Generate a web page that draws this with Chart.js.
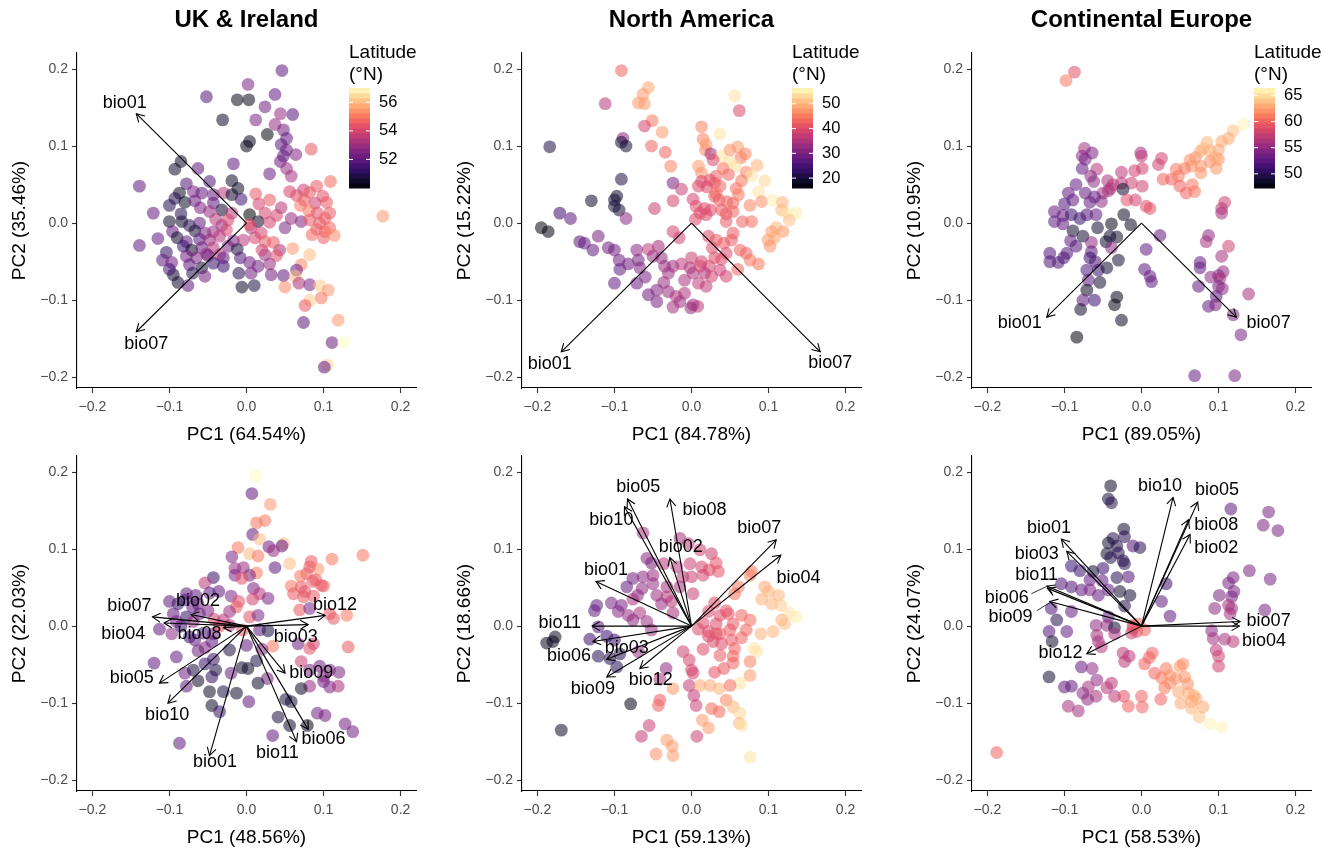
<!DOCTYPE html>
<html>
<head>
<meta charset="utf-8">
<script src="https://cdn.jsdelivr.net/npm/chart.js@4.4.1/dist/chart.umd.min.js"></script>
<style>
  html, body { margin: 0; padding: 0; background: #fff; width: 1338px; height: 851px; overflow: hidden; position: relative; }
  canvas { position: absolute; }
</style>
</head>
<body>
<canvas id="c0" width="446" height="448" style="left:0px;top:0px"></canvas>
<canvas id="c1" width="446" height="448" style="left:445px;top:0px"></canvas>
<canvas id="c2" width="446" height="448" style="left:895px;top:0px"></canvas>
<canvas id="c3" width="446" height="448" style="left:0px;top:403px"></canvas>
<canvas id="c4" width="446" height="448" style="left:445px;top:403px"></canvas>
<canvas id="c5" width="446" height="448" style="left:895px;top:403px"></canvas>
<script>
const panelTitles = ['UK & Ireland', 'North America', 'Continental Europe'];
const xTitles = ['PC1 (64.54%)', 'PC1 (84.78%)', 'PC1 (89.05%)', 'PC1 (48.56%)', 'PC1 (59.13%)', 'PC1 (58.53%)'];
const yTitles = ['PC2 (35.46%)', 'PC2 (15.22%)', 'PC2 (10.95%)', 'PC2 (22.03%)', 'PC2 (18.66%)', 'PC2 (24.07%)'];
const axisTicks = [-0.2, -0.1, 0, 0.1, 0.2];
const xLimits = [-0.22, 0.22];
const yLimits = [-0.214, 0.2208];

// latitude colour ranges and colourbar ticks
const ukLatRange = [50.0, 57.0];
const naLatRange = [16.0, 56.4];
const euLatRange = [47.3, 66.4];
const ukLatTicks = [52, 54, 56];
const naLatTicks = [20, 30, 40, 50];
const euLatTicks = [50, 55, 60, 65];

// ---- UK & Ireland, bio01 + bio07 ----  [PC1, PC2, latitude]
const ukTwoPts = [[0.046,0.198,52],[0.002,0.180,52.5],[-0.052,0.164,51.8],[-0.012,0.160,50.3],[0.003,0.160,50.3],[0.037,0.167,52],[0.024,0.151,52.3],[0.044,0.142,53],[0.060,0.141,51.8],[0.012,0.134,52.5],[-0.031,0.134,50.5],[0.027,0.115,50.1],[0.004,0.106,50.3],[0,0.100,50.3],[0.037,0.128,53],[0.048,0.121,52.3],[0.052,0.110,52],[0.045,0.102,52],[0.084,0.096,54.5],[0.052,0.095,52.3],[0.064,0.089,52.6],[0.048,0.087,52],[0.044,0.080,52.3],[0.052,0.071,53],[0.058,0.061,53.2],[0.030,0.064,52.2],[-0.017,0.077,52],[-0.085,0.080,50.5],[-0.093,0.070,50.5],[-0.063,0.071,52],[-0.139,0.048,52],[-0.078,0.051,51.8],[-0.048,0.054,51.8],[-0.019,0.055,50.5],[-0.011,0.045,50.5],[-0.087,0.039,50.5],[-0.093,0.032,51],[-0.100,0.023,51],[-0.080,0.027,50.5],[-0.069,0.041,52.5],[-0.058,0.039,52],[-0.043,0.037,52.2],[-0.067,0.029,52.2],[-0.030,0.039,53.5],[-0.019,0.037,50.5],[-0.007,0.031,51.5],[0.012,0.038,54.5],[-0.121,0.013,52],[-0.043,0.026,52],[-0.048,0.015,53],[-0.032,0.017,50.5],[-0.019,0.013,53.5],[0.016,0.025,54],[0.004,0.011,50],[0.024,0.013,54],[0.015,0.002,50.5],[-0.100,0.002,50.5],[-0.084,0.002,50.5],[-0.074,-0.003,51],[-0.061,0,52],[-0.032,-0.003,53],[-0.024,0.004,54],[-0.096,-0.011,52],[-0.067,-0.010,50.8],[-0.054,-0.013,52.5],[-0.043,-0.011,53],[-0.026,-0.009,54],[0.006,-0.006,53.5],[0.019,-0.013,54],[-0.090,-0.019,50.5],[-0.078,-0.024,52],[-0.061,-0.021,52],[-0.048,-0.022,53],[-0.035,-0.017,53.5],[-0.017,-0.023,52.5],[-0.004,-0.022,53.5],[0.011,-0.019,54],[0.024,-0.024,54.5],[-0.139,-0.029,52],[-0.082,-0.030,51.3],[-0.071,-0.035,50.5],[-0.058,-0.032,52.3],[-0.043,-0.032,53.5],[-0.024,-0.030,52.5],[-0.012,-0.034,50.8],[-0.104,-0.038,51.2],[-0.078,-0.043,52.3],[-0.065,-0.045,52.5],[-0.050,-0.042,51.5],[-0.035,-0.041,53.5],[-0.008,-0.045,51.8],[0.024,-0.041,53],[0.043,-0.035,53.2],[0.039,-0.042,54.3],[0.060,-0.033,55.5],[0.082,-0.041,56],[-0.109,-0.048,52],[-0.097,-0.051,52.3],[-0.074,-0.054,52],[-0.058,-0.058,50.7],[-0.043,-0.052,51.3],[-0.030,-0.056,51.3],[0.004,-0.051,52.3],[0.015,-0.056,52.3],[0.030,-0.053,53],[0.071,-0.054,55.3],[0.065,-0.061,52.2],[-0.095,-0.067,50.5],[-0.054,-0.069,52.3],[0.006,-0.065,52.3],[0.032,-0.067,52.3],[0.048,-0.068,52],[0.063,-0.069,56],[-0.089,-0.077,50.5],[-0.076,-0.081,52],[-0.006,-0.083,50.5],[0.010,-0.081,50.8],[0.050,-0.083,55.3],[0.068,-0.078,53.3],[0.082,-0.080,52.5],[0.095,-0.081,56.2],[0.106,-0.087,55.5],[0.082,-0.100,56.2],[0.097,-0.097,55],[0.076,-0.107,54.5],[0.119,-0.126,55.5],[0.074,-0.129,52],[0.111,-0.155,52.2],[0.126,-0.155,57],[0.105,-0.184,56.3],[0.101,-0.187,52],[0.109,0.054,54.8],[0.056,0.041,54],[0.074,0.043,53.8],[0.091,0.048,54.5],[0.065,0.036,54.2],[0.082,0.040,54.5],[0.099,0.035,54.3],[0.070,0.023,55],[0.089,0.026,53.8],[0.104,0.027,54.5],[0.081,0.016,55],[0.092,0.013,54.3],[0.108,0.013,54.5],[0.058,0.006,53],[0.071,0.002,52.5],[0.082,0.004,54.5],[0.102,0.006,54.5],[0.091,-0.008,54.5],[0.102,-0.011,54.8],[0.108,-0.006,54.7],[0.100,-0.019,54.6],[0.114,-0.016,55.3],[0.050,-0.006,52.5],[0.177,0.009,55.5],[0.039,0.010,54],[0.030,0.001,54],[0.004,-0.002,54.3],[-0.085,0.012,51],[-0.060,0.020,52.5],[-0.040,0.005,53.5],[-0.052,-0.040,53],[-0.030,-0.045,52],[-0.070,-0.065,51],[-0.100,-0.060,51.5],[-0.115,-0.020,52],[0.030,0.030,54.5],[0.045,0.020,53.5],[0.020,-0.035,54],[0.035,-0.025,54.5],[-0.010,-0.065,51],[0.075,0.030,54.5],[0.095,0.000,54.5],[0.085,-0.015,54.8]];
const ukTwoVars = ['bio01', 'bio07'];
const ukTwoTips = [[-0.143, 0.142], [-0.143, -0.141]];
const ukTwoLabels = [[-0.158, 0.156], [-0.130, -0.157]];

// ---- North America, bio01 + bio07 ----
const naTwoPts = [[-0.091,0.198,43],[-0.056,0.176,49],[-0.063,0.167,48],[-0.069,0.156,48],[-0.061,0.155,48],[-0.112,0.155,36],[0.056,0.165,54],[0.062,0.146,40],[-0.051,0.133,45],[-0.061,0.126,39],[-0.038,0.118,48],[0.013,0.125,46],[0.037,0.116,54],[-0.089,0.110,32],[-0.091,0.105,20],[-0.085,0.100,20],[-0.184,0.099,21],[-0.052,0.100,43],[0.015,0.109,46],[0.019,0.102,48],[0.060,0.099,48],[-0.034,0.092,43],[0.018,0.095,47],[0.025,0.090,34],[0.039,0.087,54],[0.028,0.082,40],[0.064,0.085,45],[0.050,0.080,54],[0.057,0.074,54],[-0.027,0.074,46],[0.009,0.074,48],[0.041,0.071,45],[0.071,0.066,46],[0.078,0.061,54],[0.013,0.065,47],[0.032,0.061,43],[0.048,0.063,43],[-0.091,0.057,21],[-0.024,0.052,30],[0.013,0.054,40],[0.024,0.056,40],[0.030,0.052,42],[0.009,0.048,40],[0.020,0.047,40],[0.037,0.048,43],[0.058,0.045,44],[-0.013,0.044,38],[0.087,0.041,54],[0.032,0.038,44],[0.061,0.037,45],[-0.097,0.035,19],[-0.100,0.030,20],[-0.130,0.029,19],[-0.024,0.029,39],[0.002,0.031,39],[0.036,0.030,43],[0.046,0.028,43],[0.091,0.028,47],[0.105,0.030,55],[0.118,0.027,50],[-0.100,0.022,20],[-0.094,0.017,20],[-0.048,0.019,38],[0.006,0.022,40],[0.017,0.019,40],[0.025,0.017,40],[0.039,0.017,42],[0.054,0.015,43],[0.076,0.023,46],[-0.171,0.013,24],[-0.157,0.006,27],[-0.085,0.006,32],[0.011,0.013,40],[0.019,0.011,40],[0.045,0.012,42],[0.117,0.017,50],[0.123,0.013,54],[0.136,0.013,55],[0.127,0.004,51],[0.045,0.002,42],[0.066,0.002,43],[0.078,0.002,44],[-0.195,-0.006,17],[-0.186,-0.011,17],[-0.024,-0.011,39],[0.110,-0.006,50],[0.119,-0.011,48],[0.104,-0.011,48],[-0.121,-0.017,30],[-0.016,-0.019,39],[0.022,-0.017,40],[0.032,-0.022,42],[0.052,-0.022,42],[0.099,-0.022,48],[0.108,-0.019,49],[-0.145,-0.024,27],[-0.139,-0.026,28],[0.042,-0.026,42],[0.063,-0.035,43],[0.102,-0.030,47],[-0.128,-0.035,28],[-0.108,-0.032,29],[-0.100,-0.035,29],[-0.071,-0.035,32],[-0.056,-0.034,37],[-0.043,-0.030,34],[0.027,-0.032,40],[0.045,-0.039,40],[-0.094,-0.048,29],[-0.082,-0.053,29],[-0.069,-0.048,30],[-0.050,-0.043,33],[-0.039,-0.045,33],[0.039,-0.047,40],[0.076,-0.048,45],[0.087,-0.053,45],[-0.093,-0.060,28],[-0.067,-0.058,31],[-0.035,-0.056,33],[-0.024,-0.056,33],[-0.013,-0.053,37],[-0.002,-0.058,35],[0.013,-0.050,39],[0.023,-0.056,39],[0.037,-0.061,38],[0.002,-0.065,35],[0.017,-0.065,35],[0.026,-0.069,39],[0.045,-0.069,39],[-0.100,-0.078,28],[-0.071,-0.078,29],[-0.036,-0.077,33],[-0.009,-0.074,35],[0.009,-0.078,37],[0.019,-0.082,37],[-0.045,-0.087,31],[-0.030,-0.089,33],[-0.056,-0.093,29],[-0.009,-0.091,35],[-0.045,-0.102,30],[-0.015,-0.102,34],[0.002,-0.106,34],[0.008,-0.108,36],[-0.024,-0.109,34],[-0.001,-0.110,33],[0,-0.045,38],[0.011,-0.056,39],[0.071,-0.039,43],[0.054,-0.013,42],[0.054,0.026,43],[0.070,0.090,46],[0.085,0.075,50],[0.095,0.055,53],[0.050,0.095,47],[0.030,0.035,42],[0.065,0.055,45],[0.005,0.005,40],[0.030,-0.045,40],[0.060,-0.060,43],[-0.030,-0.065,34],[-0.060,-0.070,30],[-0.020,-0.095,35]];
const naTwoVars = ['bio01', 'bio07'];
const naTwoTips = [[-0.169, -0.167], [0.167, -0.167]];
const naTwoLabels = [[-0.184, -0.183], [0.180, -0.182]];

// ---- Continental Europe, bio01 + bio07 ----
const euTwoPts = [[-0.087,0.196,59],[-0.098,0.185,61],[0.132,0.128,66],[0.119,0.120,64],[0.113,0.110,63],[0.104,0.106,63],[0.080,0.097,64],[0.089,0.094,63],[0.100,0.095,63],[0.076,0.093,63],[-0.074,0.097,56],[-0.064,0.091,54],[-0.077,0.087,55],[-0.073,0.083,54],[-0.001,0.091,56],[0,0.087,57],[0.026,0.084,58],[0.063,0.082,62],[0.089,0.080,62],[0.100,0.083,62],[0.022,0.076,58],[0.065,0.074,62],[0.077,0.074,62],[0.097,0.071,62],[-0.077,0.071,53],[-0.058,0.070,57],[0.001,0.071,58],[-0.009,0.068,58],[0.056,0.071,61],[0.077,0.065,62],[-0.026,0.066,57],[-0.066,0.061,55],[-0.062,0.054,55],[-0.044,0.055,56],[-0.037,0.050,57],[-0.026,0.052,57],[-0.013,0.052,58],[0.001,0.048,58],[0.028,0.057,60],[0.039,0.057,60],[0.048,0.061,61],[0.050,0.048,60],[0.066,0.050,61],[0.058,0.039,60],[0.069,0.041,61],[-0.024,0.044,49],[-0.095,0.039,53],[-0.073,0.039,53],[-0.050,0.039,56],[-0.040,0.045,57],[-0.019,0.030,59],[-0.008,0.030,58],[-0.089,0.030,53],[-0.067,0.027,53],[-0.052,0.028,55],[0.006,0.022,59],[0.011,0.019,59],[0.108,0.027,58],[0.104,0.019,57],[0.104,0.013,56],[-0.113,0.015,53],[-0.102,0.010,53],[-0.091,0.011,51],[-0.080,0.006,51],[-0.071,0.011,52],[-0.059,0.011,53],[-0.023,0.011,48.5],[-0.113,0.002,53],[-0.102,-0.001,53],[-0.039,-0.001,48],[-0.014,-0.002,48.5],[-0.089,-0.010,49],[-0.076,-0.017,49],[-0.057,-0.006,49],[-0.041,-0.017,49],[-0.032,-0.018,49],[0.024,-0.016,53],[-0.092,-0.023,53],[-0.065,-0.025,55],[-0.046,-0.024,49],[-0.039,-0.032,55],[0.087,-0.016,55],[0.084,-0.024,56],[0.113,-0.030,58],[-0.065,-0.037,53],[0.006,-0.034,53],[-0.119,-0.039,52],[-0.097,-0.039,52],[-0.067,-0.045,51],[-0.119,-0.050,52],[-0.108,-0.051,52],[-0.101,-0.045,52],[-0.030,-0.048,49],[0.104,-0.043,56],[0.076,-0.051,53],[-0.071,-0.061,52],[-0.056,-0.061,51],[-0.045,-0.058,49],[0.004,-0.060,53],[0.076,-0.058,53],[0.100,-0.068,55],[0.106,-0.063,55],[0.102,-0.072,56],[0.011,-0.069,53],[-0.069,-0.074,53],[-0.054,-0.077,49],[0.013,-0.076,53],[0.074,-0.082,53],[0.100,-0.082,54],[-0.071,-0.087,48.5],[-0.076,-0.100,53],[-0.061,-0.100,51],[-0.032,-0.096,48],[-0.035,-0.106,48],[0.097,-0.095,53],[0.139,-0.092,56],[0.087,-0.108,53],[0.096,-0.106,54],[-0.079,-0.112,49],[-0.026,-0.126,48.5],[0.119,-0.119,54],[0.129,-0.145,54],[-0.084,-0.148,47.5],[0.069,-0.198,53],[0.121,-0.198,54],[-0.043,0.042,56],[-0.061,0.034,53],[0.085,0.105,63.5],[0.095,0.085,63],[0.070,0.085,62],[0.045,0.070,61],[-0.085,0.050,53],[-0.100,0.025,52],[-0.085,-0.030,52],[-0.060,-0.050,52],[0.090,-0.070,55],[0.105,-0.085,55]];
const euTwoVars = ['bio01', 'bio07'];
const euTwoTips = [[-0.123, -0.122], [0.123, -0.122]];
const euTwoLabels = [[-0.158, -0.130], [0.165, -0.130]];

// ---- UK & Ireland, all twelve variables ----
const ukAllPts = [[0.012,0.195,57],[0.007,0.172,52],[0.031,0.158,55.5],[0.013,0.134,55],[0.024,0.137,55],[0.008,0.119,52],[0.017,0.113,56],[0.048,0.107,56],[0.029,0.103,52.3],[0.046,0.104,52],[0.035,0.098,53],[-0.011,0.102,55],[0.004,0.094,56],[0.015,0.091,55],[-0.019,0.090,52.5],[0.151,0.092,55],[0.111,0.087,55],[0.084,0.084,54.5],[0.056,0.081,56],[0.037,0.076,52],[0.093,0.074,55.5],[0.082,0.077,54.5],[-0.015,0.075,53],[-0.004,0.076,53],[0.013,0.069,55],[-0.015,0.066,52.5],[0.004,0.066,52.5],[-0.043,0.063,51.3],[0.078,0.068,54.5],[-0.006,0.062,54.3],[0.086,0.058,54.5],[0.097,0.053,54.5],[-0.054,0.056,53.5],[0.058,0.052,55],[0.071,0.051,54.5],[0.100,0.052,54.5],[0.009,0.049,52.5],[-0.036,0.045,52],[-0.048,0.043,52],[-0.020,0.039,52.5],[0.017,0.042,53.5],[0.028,0.036,52.5],[0.061,0.042,54.5],[0.074,0.038,54.5],[0.076,0.045,54.3],[0.087,0.039,54.5],[-0.078,0.042,52],[-0.066,0.040,52],[0.008,0.035,54],[-0.010,0.032,54.3],[-0.100,0.032,52],[-0.089,0.029,51.3],[-0.080,0.034,51.5],[-0.063,0.029,52],[-0.013,0.025,54.5],[-0.022,0.019,53],[0.069,0.021,54.5],[0.082,0.023,52.5],[0.108,0.016,54.5],[0.130,0.014,55],[0.113,0.010,54.5],[-0.095,0.016,52],[-0.091,0.006,52.3],[-0.078,0.012,51.3],[-0.061,0.016,52],[-0.069,0.006,53],[-0.042,0.009,54],[-0.030,0.008,53.5],[0.004,0.012,54.3],[0.015,0.014,52.5],[-0.113,-0.004,52],[-0.097,-0.010,52.8],[-0.074,-0.014,51.3],[-0.056,-0.009,51.5],[-0.043,-0.010,52.3],[0.017,-0.005,52],[0.028,-0.006,50.8],[0.034,-0.026,55],[0.067,-0.023,52.3],[0.082,-0.029,54.3],[0.087,-0.023,54],[0.132,-0.027,54.5],[-0.067,-0.018,52],[-0.054,-0.028,52.5],[-0.063,-0.032,52.3],[-0.022,-0.031,50.8],[-0.091,-0.040,52],[-0.043,-0.043,51.3],[-0.054,-0.049,51.3],[-0.120,-0.048,52],[-0.080,-0.061,52.3],[-0.069,-0.057,50.8],[-0.040,-0.057,50.8],[-0.045,-0.066,51.2],[-0.020,-0.061,52.2],[-0.006,-0.054,50.5],[0.002,-0.055,50.5],[0.013,-0.045,50.8],[0.027,-0.068,52.3],[0.071,-0.046,53.8],[0.082,-0.057,52.5],[0.095,-0.052,52.3],[0.108,-0.057,52.5],[0.100,-0.072,52.3],[0.108,-0.079,52.5],[0.119,-0.078,53.2],[0.082,-0.078,53],[0.071,-0.081,50.5],[-0.078,-0.078,52],[-0.063,-0.071,50.5],[-0.048,-0.085,50.5],[-0.013,-0.087,50.5],[0.015,-0.074,50.5],[0.003,-0.098,52],[0.051,-0.095,50.8],[0.058,-0.098,50.8],[-0.045,-0.103,50.5],[-0.035,-0.111,51.3],[0.041,-0.118,50.8],[0.056,-0.129,50.5],[0.079,-0.129,50.3],[0.092,-0.113,52.3],[0.102,-0.116,52.3],[0.128,-0.127,52.3],[0.138,-0.137,52.3],[0.034,-0.142,52],[-0.087,-0.152,52],[-0.035,0.000,54.3],[-0.005,-0.005,54.5],[-0.022,0.001,53.5],[-0.070,0.025,52],[-0.050,0.020,52.5],[-0.085,0.000,51.5],[-0.045,-0.020,52],[0.090,0.060,54.5],[0.070,0.065,55],[0.100,-0.065,52.5],[0.120,-0.060,52.5],[-0.030,-0.085,50.8],[0.020,-0.030,52.5],[0.000,-0.025,52]];
const ukAllVars = ['bio07','bio04','bio02','bio08','bio12','bio03','bio09','bio06','bio11','bio01','bio10','bio05'];
const ukAllTips = [[-0.122,0.012],[-0.107,0.004],[-0.072,0.015],[-0.030,-0.002],[0.102,0.014],[0.080,0.002],[0.050,-0.061],[0.080,-0.134],[0.065,-0.150],[-0.048,-0.168],[-0.102,-0.100],[-0.113,-0.074]];
const ukAllLabels = [[-0.152,0.026],[-0.160,-0.010],[-0.063,0.032],[-0.061,-0.010],[0.115,0.028],[0.064,-0.014],[0.084,-0.061],[0.100,-0.147],[0.040,-0.165],[-0.041,-0.176],[-0.103,-0.116],[-0.149,-0.068]];

// ---- North America, all twelve variables ----
const naAllPts = [[-0.063,0.121,35],[-0.015,0.114,35],[-0.004,0.107,37],[0.011,0.099,38],[0.026,0.094,38],[0.032,0.082,41],[-0.058,0.088,32],[-0.052,0.082,30],[-0.036,0.081,36],[-0.019,0.077,36],[-0.002,0.081,38],[0.013,0.077,39],[0.023,0.073,40],[0.035,0.071,41],[0.078,0.071,45],[0.076,0.066,46],[-0.076,0.062,29],[-0.063,0.064,32],[-0.050,0.066,33],[-0.011,0.064,37],[0,0.064,38],[0.015,0.066,39],[-0.084,0.051,28],[-0.064,0.049,32],[-0.032,0.051,34],[-0.015,0.051,35],[0.095,0.051,49],[0.113,0.040,50],[0.061,0.051,45],[0.056,0.042,44],[-0.045,0.040,33],[-0.032,0.038,36],[0.002,0.042,38],[-0.104,0.030,30],[-0.123,0.027,28],[-0.091,0.027,30],[-0.076,0.035,35],[-0.039,0.029,33],[-0.026,0.032,36],[0.091,0.035,50],[0.104,0.029,50],[0.116,0.027,52],[0.127,0.017,54],[0.136,0.012,55],[-0.126,0.020,28],[-0.095,0.019,31],[-0.082,0.014,33],[-0.067,0.017,35],[-0.024,0.017,34],[0.022,0.019,40],[0.037,0.014,40],[0.048,0.016,42],[0.065,0.014,43],[0.076,0.008,44],[0.117,0.008,50],[0.121,0.003,51],[-0.076,0.008,32],[-0.058,0.006,33],[0.015,0.004,40],[0.032,0.003,40],[0.054,0.003,42],[-0.052,-0.005,33],[-0.121,-0.001,27],[-0.177,-0.014,18],[-0.188,-0.022,18],[-0.180,-0.020,18],[-0.132,-0.017,24],[-0.110,-0.013,24],[-0.100,-0.018,24],[0.009,-0.004,40],[0.022,-0.007,40],[0.037,-0.010,42],[0.071,-0.005,43],[0.106,-0.007,50],[0.028,-0.020,40],[0.039,-0.023,40],[0.052,-0.018,42],[0.081,-0.029,54],[0.085,-0.033,54],[-0.121,-0.039,22],[-0.106,-0.042,22],[-0.093,-0.036,22],[-0.097,-0.053,22],[-0.069,-0.033,33],[-0.011,-0.033,38],[0.056,-0.029,43],[0.037,-0.038,42],[0.054,-0.039,43],[-0.003,-0.044,39],[0.076,-0.046,46],[-0.033,-0.055,32],[0,-0.057,39],[0.002,-0.061,39],[0.042,-0.055,42],[0.054,-0.048,43],[0.076,-0.064,48],[0.063,-0.074,54],[-0.041,-0.069,35],[-0.024,-0.081,48],[-0.003,-0.077,37],[0.011,-0.077,49],[0.024,-0.077,49],[0.036,-0.081,50],[0.050,-0.077,44],[-0.041,-0.096,42],[-0.043,-0.103,43],[0.003,-0.090,37],[0.006,-0.103,38],[0.045,-0.096,46],[0.054,-0.105,50],[0.026,-0.107,44],[0.036,-0.111,44],[0.063,-0.113,53],[0.062,-0.126,50],[0.065,-0.129,54],[-0.079,-0.101,17],[0.014,-0.122,48],[0.022,-0.132,48],[-0.055,-0.129,38],[-0.065,-0.143,37],[0.007,-0.143,38],[-0.032,-0.148,48],[-0.025,-0.156,48],[-0.024,-0.168,48],[-0.046,-0.166,47],[0.076,-0.170,54],[-0.169,-0.135,19],[0.022,-0.013,40],[0.032,-0.010,41],[-0.070,0.040,32],[-0.050,0.055,33],[0.030,0.030,40],[0.045,0.020,41],[0.050,-0.005,42],[0.065,-0.015,43],[0.015,-0.030,40],[0.030,-0.060,41],[0.090,-0.010,50],[0.100,0.045,50]];
const naAllVars = ['bio05','bio10','bio08','bio02','bio07','bio04','bio01','bio11','bio06','bio03','bio09','bio12'];
const naAllTips = [[-0.083,0.165],[-0.087,0.155],[-0.028,0.165],[-0.028,0.089],[0.110,0.112],[0.116,0.092],[-0.124,0.058],[-0.129,0.000],[-0.128,-0.020],[-0.110,-0.043],[-0.110,-0.066],[-0.067,-0.055]];
const naAllLabels = [[-0.069,0.180],[-0.104,0.138],[0.017,0.151],[-0.014,0.103],[0.088,0.127],[0.139,0.063],[-0.111,0.073],[-0.171,0.004],[-0.159,-0.039],[-0.084,-0.029],[-0.128,-0.082],[-0.053,-0.070]];

// ---- Continental Europe, all twelve variables ----
const euAllPts = [[-0.040,0.182,48.5],[-0.043,0.165,49],[-0.039,0.160,50],[0.116,0.152,53],[0.165,0.148,54],[0.158,0.131,54],[0.177,0.124,54],[-0.023,0.126,49],[-0.022,0.116,50],[-0.037,0.114,50],[-0.043,0.108,49],[-0.032,0.104,50],[-0.011,0.104,52],[-0.002,0.102,50],[-0.045,0.094,49],[-0.040,0.089,50],[-0.024,0.085,50],[-0.022,0.081,50],[-0.091,0.078,51],[-0.080,0.072,51],[-0.063,0.071,49],[0.140,0.072,54],[0.119,0.063,54],[0.167,0.061,54],[0.113,0.056,54],[-0.032,0.063,50],[-0.017,0.064,52],[-0.104,0.055,52],[-0.091,0.051,52],[-0.067,0.060,53],[-0.051,0.059,53],[0.032,0.055,51],[-0.078,0.047,53],[-0.067,0.047,54],[-0.056,0.040,53],[-0.043,0.047,53],[-0.028,0.045,49],[-0.015,0.040,49],[0.101,0.040,54],[0.117,0.038,54],[0.026,0.032,53],[0.037,0.013,53],[-0.117,0.023,52],[-0.091,0.019,53],[-0.043,0.012,53],[-0.022,0.026,50],[0.095,0.023,55],[0.113,0.027,56],[0.117,0.023,56],[0.115,0.016,56],[0.160,0.021,54],[-0.110,0.008,50],[-0.059,0.001,55],[-0.045,0.001,55],[-0.035,-0.002,49],[-0.011,-0.003,59],[-0.006,-0.007,59],[0.004,-0.005,60],[-0.013,-0.009,58],[-0.120,-0.007,52],[-0.097,-0.007,53],[-0.058,-0.012,56],[-0.035,-0.010,56],[0.091,-0.006,55],[0.093,-0.016,56],[0.108,-0.017,56],[0.119,-0.020,57],[-0.116,-0.020,49],[-0.056,-0.020,56],[-0.052,-0.027,57],[0.097,-0.031,57],[0.100,-0.039,58],[0.100,-0.052,58],[-0.024,-0.035,57],[-0.016,-0.039,57],[0.014,-0.035,60],[0.010,-0.041,60],[-0.022,-0.046,57],[0.004,-0.049,60],[0.032,-0.055,61],[0.050,-0.052,62],[0.054,-0.049,62],[-0.078,-0.053,53],[-0.064,-0.055,55],[-0.120,-0.066,49],[0.017,-0.061,60],[0.026,-0.067,61],[0.037,-0.064,62],[0.045,-0.068,62],[0.056,-0.066,62],[-0.100,-0.079,53],[-0.091,-0.078,53],[-0.076,-0.087,55],[-0.069,-0.079,56],[-0.058,-0.070,55],[-0.039,-0.074,57],[-0.059,-0.091,56],[-0.035,-0.091,57],[-0.023,-0.091,59],[0,-0.091,60],[0.025,-0.095,60],[0.037,-0.074,62],[0.048,-0.085,63],[0.061,-0.087,63],[0.068,-0.090,63],[0.071,-0.094,63],[-0.017,-0.104,60],[0.001,-0.105,60],[0.051,-0.100,63],[0.065,-0.098,63],[0.065,-0.107,63.5],[-0.095,-0.104,56],[-0.082,-0.110,56],[0.075,-0.118,64],[0.089,-0.127,66],[0.104,-0.131,66],[-0.188,-0.164,60],[-0.011,0.001,59],[-0.004,0.003,60],[-0.030,0.095,50],[-0.050,0.075,51],[0.120,0.045,54],[0.030,-0.080,61],[0.060,-0.075,62],[0.080,-0.105,63],[-0.070,-0.095,55],[-0.045,-0.080,57]];
const euAllVars = ['bio10','bio05','bio08','bio02','bio01','bio03','bio11','bio06','bio09','bio07','bio04','bio12'];
const euAllTips = [[0.041,0.167],[0.073,0.161],[0.061,0.138],[0.063,0.119],[-0.104,0.113],[-0.097,0.097],[-0.123,0.052],[-0.122,0.049],[-0.119,0.032],[0.128,0.006],[0.127,0.000],[-0.071,-0.036]];
const euAllLabels = [[0.024,0.182],[0.098,0.176],[0.097,0.131],[0.097,0.102],[-0.120,0.127],[-0.136,0.094],[-0.136,0.066],[-0.175,0.036],[-0.170,0.012],[0.165,0.006],[0.159,-0.019],[-0.105,-0.035]];
// short leader lines from repelled labels (bio06, bio09) to their arrows
const euAllLeaders = [[[-0.143, 0.042], [-0.124, 0.051]], [[-0.136, 0.020], [-0.118, 0.031]]];

const FONT = '"Liberation Sans", Arial, Helvetica, sans-serif';

// viridis "magma" palette stops
const MAGMA = [[0,0,4],[20,14,54],[59,15,112],[100,26,128],[140,41,129],[183,55,121],[222,73,104],[247,112,92],[254,159,109],[254,207,146],[252,253,191]];
function magma(t, alpha) {
  t = Math.max(0, Math.min(1, t));
  const f = t * (MAGMA.length - 1);
  const i = Math.min(MAGMA.length - 2, Math.floor(f));
  const k = f - i;
  const c = MAGMA[i].map((v, j) => Math.round(v + (MAGMA[i + 1][j] - v) * k));
  return `rgba(${c[0]},${c[1]},${c[2]},${alpha})`;
}

function fmtTick(v) {
  return (v < -1e-9 ? '\u2212' : '') + Math.abs(v).toFixed(1);
}

const panels = [
  {id: 'c0', title: panelTitles[0], pts: ukTwoPts, vars: ukTwoVars, tips: ukTwoTips, labs: ukTwoLabels, lat: ukLatRange, latTicks: ukLatTicks, barDx: 272},
  {id: 'c1', title: panelTitles[1], pts: naTwoPts, vars: naTwoVars, tips: naTwoTips, labs: naTwoLabels, lat: naLatRange, latTicks: naLatTicks, barDx: 270},
  {id: 'c2', title: panelTitles[2], pts: euTwoPts, vars: euTwoVars, tips: euTwoTips, labs: euTwoLabels, lat: euLatRange, latTicks: euLatTicks, barDx: 282},
  {id: 'c3', title: null, pts: ukAllPts, vars: ukAllVars, tips: ukAllTips, labs: ukAllLabels, lat: ukLatRange, latTicks: null},
  {id: 'c4', title: null, pts: naAllPts, vars: naAllVars, tips: naAllTips, labs: naAllLabels, lat: naLatRange, latTicks: null},
  {id: 'c5', title: null, pts: euAllPts, vars: euAllVars, tips: euAllTips, labs: euAllLabels, lat: euLatRange, latTicks: null, leaders: euAllLeaders}
];

const biplotDecor = {
  id: 'biplotDecor',
  afterDatasetsDraw(chart, args, opts) {
    const p = opts.panel;
    const {ctx, chartArea: area, scales: {x, y}} = chart;
    ctx.save();
    // arrow heads
    const ox = x.getPixelForValue(0), oy = y.getPixelForValue(0);
    ctx.strokeStyle = '#000';
    ctx.lineWidth = 1.1;
    ctx.lineJoin = 'miter';
    p.tips.forEach(([tx, ty]) => {
      const px = x.getPixelForValue(tx), py = y.getPixelForValue(ty);
      const a = Math.atan2(py - oy, px - ox);
      const L = 9, w = Math.PI / 6;
      ctx.beginPath();
      ctx.moveTo(px - L * Math.cos(a - w), py - L * Math.sin(a - w));
      ctx.lineTo(px, py);
      ctx.lineTo(px - L * Math.cos(a + w), py - L * Math.sin(a + w));
      ctx.stroke();
    });
    // variable labels
    ctx.fillStyle = '#000';
    ctx.font = '18px ' + FONT;
    ctx.textAlign = 'center';
    ctx.textBaseline = 'middle';
    p.vars.forEach((v, i) => {
      ctx.fillText(v, x.getPixelForValue(p.labs[i][0]), y.getPixelForValue(p.labs[i][1]));
    });
    // panel title
    if (p.title) {
      ctx.font = 'bold 24px ' + FONT;
      ctx.textBaseline = 'alphabetic';
      ctx.fillText(p.title, (area.left + area.right) / 2, 27);
    }
    // colour bar
    if (p.latTicks) {
      const bx = area.left + p.barDx, by = area.top + 35, bw = 21, bh = 100;
      const nb = 20;
      for (let i = 0; i < nb; i++) {
        ctx.fillStyle = magma((i + 0.5) / nb, 1);
        ctx.fillRect(bx, by + bh - (i + 1) * bh / nb, bw, bh / nb + 0.5);
      }
      const [lo, hi] = p.lat;
      ctx.font = '16.5px ' + FONT;
      ctx.textAlign = 'left';
      ctx.textBaseline = 'middle';
      p.latTicks.forEach(v => {
        const ty = by + bh - (v - lo) / (hi - lo) * bh;
        ctx.strokeStyle = '#fff';
        ctx.lineWidth = 1;
        ctx.beginPath();
        ctx.moveTo(bx, ty); ctx.lineTo(bx + 4, ty);
        ctx.moveTo(bx + bw - 4, ty); ctx.lineTo(bx + bw, ty);
        ctx.stroke();
        ctx.fillStyle = '#000';
        ctx.fillText(String(v), bx + bw + 9, ty);
      });
      ctx.font = '19px ' + FONT;
      ctx.textBaseline = 'alphabetic';
      ctx.fillText('Latitude', bx, by - 30);
      ctx.fillText('(\u00B0N)', bx, by - 8);
    }
    ctx.restore();
  }
};

function axisOpts(title, isY) {
  const lim = isY ? yLimits : xLimits;
  return {
    type: 'linear',
    min: lim[0],
    max: lim[1],
    afterBuildTicks: s => { s.ticks = axisTicks.map(v => ({value: v})); },
    afterFit: s => { if (isY) { s.width = 77; } else { s.height = 60; } },
    grid: {drawOnChartArea: false, drawTicks: true, tickLength: 5, tickColor: '#333', tickWidth: 1.1},
    border: {display: true, color: '#000', width: 1.1},
    ticks: {color: '#4d4d4d', font: {family: FONT, size: 14}, padding: isY ? 4 : 6, autoSkip: false, maxRotation: 0, callback: v => fmtTick(v)},
    title: {display: true, text: title, color: '#000', font: {family: FONT, size: 19}, padding: isY ? {top: 8, bottom: 0} : {top: 0, bottom: 2}}
  };
}

panels.forEach((p, k) => {
  const norm = v => (v - p.lat[0]) / (p.lat[1] - p.lat[0]);
  const lineSet = (pts, w) => ({
    type: 'line',
    data: pts.map(q => ({x: q[0], y: q[1]})),
    borderColor: '#000',
    borderWidth: w,
    pointRadius: 0,
    fill: false,
    order: 1
  });
  const arrowSets = p.tips.map(t => lineSet([[0, 0], t], 1.1));
  const leaderSets = (p.leaders || []).map(s => lineSet(s, 0.8));
  new Chart(document.getElementById(p.id), {
    type: 'scatter',
    data: {
      datasets: [
        {
          data: p.pts.map(q => ({x: q[0], y: q[1]})),
          backgroundColor: p.pts.map(q => magma(norm(q[2]), 0.55)),
          borderWidth: 0,
          pointRadius: 6.4,
          pointHoverRadius: 6.4,
          order: 2
        },
        ...arrowSets,
        ...leaderSets
      ]
    },
    options: {
      responsive: false,
      animation: false,
      events: [],
      layout: {padding: {top: 53, right: 30, left: 0, bottom: 0}},
      scales: {x: axisOpts(xTitles[k], false), y: axisOpts(yTitles[k], true)},
      plugins: {legend: {display: false}, tooltip: {enabled: false}, biplotDecor: {panel: p}}
    },
    plugins: [biplotDecor]
  });
});
</script>
</body>
</html>
